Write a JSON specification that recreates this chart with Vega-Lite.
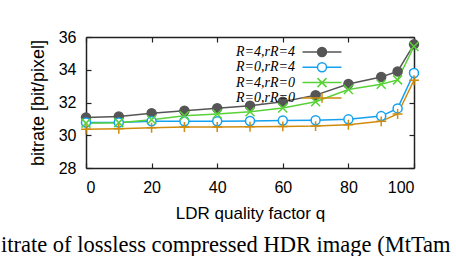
{
  "$schema": "https://vega.github.io/schema/vega-lite/v6.json",
  "width": 328,
  "height": 131,
  "autosize": {"type": "none"},
  "padding": {"left": 86, "top": 37, "right": 42, "bottom": 88},
  "title": {"text": "itrate of lossless compressed HDR image (MtTam", "orient": "bottom", "anchor": "start", "frame": "group", "font": "Liberation Serif", "fontSize": 22.5, "fontWeight": "normal", "color": "black", "dx": -85, "offset": 13},
  "config": {"view": {"stroke": null}, "axis": {"grid": false}},
  "data": {"values": [
    {"q": 0, "s": "R=4,rR=4", "v": 31.08}, {"q": 10, "s": "R=4,rR=4", "v": 31.14}, {"q": 20, "s": "R=4,rR=4", "v": 31.34}, {"q": 30, "s": "R=4,rR=4", "v": 31.5}, {"q": 40, "s": "R=4,rR=4", "v": 31.65}, {"q": 50, "s": "R=4,rR=4", "v": 31.8}, {"q": 60, "s": "R=4,rR=4", "v": 32.05}, {"q": 70, "s": "R=4,rR=4", "v": 32.45}, {"q": 80, "s": "R=4,rR=4", "v": 33.13}, {"q": 90, "s": "R=4,rR=4", "v": 33.56}, {"q": 95, "s": "R=4,rR=4", "v": 33.9}, {"q": 100, "s": "R=4,rR=4", "v": 35.55},
    {"q": 0, "s": "R=0,rR=4", "v": 30.78}, {"q": 10, "s": "R=0,rR=4", "v": 30.78}, {"q": 20, "s": "R=0,rR=4", "v": 30.85}, {"q": 30, "s": "R=0,rR=4", "v": 30.85}, {"q": 40, "s": "R=0,rR=4", "v": 30.86}, {"q": 50, "s": "R=0,rR=4", "v": 30.87}, {"q": 60, "s": "R=0,rR=4", "v": 30.9}, {"q": 70, "s": "R=0,rR=4", "v": 30.92}, {"q": 80, "s": "R=0,rR=4", "v": 30.97}, {"q": 90, "s": "R=0,rR=4", "v": 31.17}, {"q": 95, "s": "R=0,rR=4", "v": 31.64}, {"q": 100, "s": "R=0,rR=4", "v": 33.8},
    {"q": 0, "s": "R=4,rR=0", "v": 30.74}, {"q": 10, "s": "R=4,rR=0", "v": 30.77}, {"q": 20, "s": "R=4,rR=0", "v": 30.95}, {"q": 30, "s": "R=4,rR=0", "v": 31.19}, {"q": 40, "s": "R=4,rR=0", "v": 31.3}, {"q": 50, "s": "R=4,rR=0", "v": 31.44}, {"q": 60, "s": "R=4,rR=0", "v": 31.66}, {"q": 70, "s": "R=4,rR=0", "v": 32.05}, {"q": 80, "s": "R=4,rR=0", "v": 32.79}, {"q": 90, "s": "R=4,rR=0", "v": 33.12}, {"q": 95, "s": "R=4,rR=0", "v": 33.38}, {"q": 100, "s": "R=4,rR=0", "v": 35.42},
    {"q": 0, "s": "R=0,rR=0", "v": 30.37}, {"q": 10, "s": "R=0,rR=0", "v": 30.4}, {"q": 20, "s": "R=0,rR=0", "v": 30.46}, {"q": 30, "s": "R=0,rR=0", "v": 30.5}, {"q": 40, "s": "R=0,rR=0", "v": 30.5}, {"q": 50, "s": "R=0,rR=0", "v": 30.52}, {"q": 60, "s": "R=0,rR=0", "v": 30.54}, {"q": 70, "s": "R=0,rR=0", "v": 30.56}, {"q": 80, "s": "R=0,rR=0", "v": 30.64}, {"q": 90, "s": "R=0,rR=0", "v": 30.85}, {"q": 95, "s": "R=0,rR=0", "v": 31.3}, {"q": 100, "s": "R=0,rR=0", "v": 33.36}
  ]},
  "resolve": {"axis": {"x": "independent", "y": "independent"}},
  "layer": [
    {
      "mark": {"type": "line", "strokeWidth": 1.5},
      "encoding": {
        "x": {"field": "q", "type": "quantitative", "scale": {"domain": [0, 100], "nice": false},
          "axis": {"orient": "bottom", "values": [0, 20, 40, 60, 80, 100], "tickSize": -5, "tickWidth": 1.2, "tickColor": "#222", "labelPadding": 16, "labelFont": "Liberation Sans", "labelFontSize": 16, "labelColor": "black", "domainColor": "#222", "domainWidth": 1.5, "title": "LDR quality factor q", "titleFont": "Liberation Sans", "titleFontSize": 17, "titleFontWeight": "normal", "titleColor": "black", "titlePadding": 10}},
        "y": {"field": "v", "type": "quantitative", "scale": {"domain": [28, 36], "nice": false, "zero": false},
          "axis": {"orient": "left", "values": [28, 30, 32, 34, 36], "tickSize": -5, "tickWidth": 1.2, "tickColor": "#222", "labelPadding": 15, "labelFont": "Liberation Sans", "labelFontSize": 16, "labelColor": "black", "domainColor": "#222", "domainWidth": 1.5, "title": "bitrate [bit/pixel]", "titleFont": "Liberation Sans", "titleFontSize": 18, "titleFontWeight": "normal", "titleColor": "black", "titlePadding": 11}},
        "color": {"field": "s", "type": "nominal", "scale": {"domain": ["R=4,rR=4", "R=0,rR=4", "R=4,rR=0", "R=0,rR=0"], "range": ["#555555", "#13a1f0", "#58d237", "#d18b0c"]},
          "legend": {"orient": "none", "legendX": 209, "legendY": 8, "title": null, "padding": 0, "rowPadding": -0.7, "labelFont": "Liberation Serif", "labelFontStyle": "italic", "labelFontSize": 14, "labelColor": "black",
            "encode": {
              "symbols": {"update": {
                "shape": {"signal": "(datum.value === 'R=4,rR=4' || datum.value === 'R=0,rR=4') ? 'M-4.33,0H-1M1,0H4.33M1,0A1,1 0 1,1 -1,0A1,1 0 1,1 1,0Z' : (datum.value === 'R=4,rR=0' ? 'M-4.33,0H4.33M-1,-1L1,1M-1,1L1,-1' : 'M-4.33,0H4.33M0,-1.1V1.1')"},
                "fill": {"signal": "datum.value === 'R=4,rR=4' ? '#555555' : (datum.value === 'R=0,rR=4' ? '#ffffff' : 'transparent')"},
                "size": {"value": 81},
                "x": {"value": 27},
                "strokeWidth": {"value": 1.5},
                "opacity": {"value": 1}
              }},
              "labels": {"update": {"x": {"value": 0}, "align": {"value": "right"}}}
            }}}
      }
    },
    {
      "mark": {"type": "point", "strokeWidth": 1.5, "size": 81, "opacity": 1},
      "encoding": {
        "x": {"field": "q", "type": "quantitative",
          "axis": {"orient": "top", "values": [0, 20, 40, 60, 80, 100], "labels": false, "tickSize": -5, "tickWidth": 1.2, "tickColor": "#222", "domainColor": "#222", "domainWidth": 1.5, "title": null}},
        "y": {"field": "v", "type": "quantitative",
          "axis": {"orient": "right", "values": [28, 30, 32, 34, 36], "labels": false, "tickSize": -5, "tickWidth": 1.2, "tickColor": "#222", "domainColor": "#222", "domainWidth": 1.5, "title": null}},
        "color": {"field": "s", "type": "nominal"},
        "shape": {"field": "s", "type": "nominal", "scale": {"domain": ["R=0,rR=0", "R=4,rR=0", "R=0,rR=4", "R=4,rR=4"], "range": ["M-1.1,0H1.1M0,-1.1V1.1", "M-1,-1L1,1M-1,1L1,-1", "circle", "circle"]}, "legend": null},
        "fill": {"field": "s", "type": "nominal", "scale": {"domain": ["R=0,rR=0", "R=4,rR=0", "R=0,rR=4", "R=4,rR=4"], "range": ["transparent", "transparent", "#ffffff", "#555555"]}, "legend": null}
      }
    }
  ]
}
